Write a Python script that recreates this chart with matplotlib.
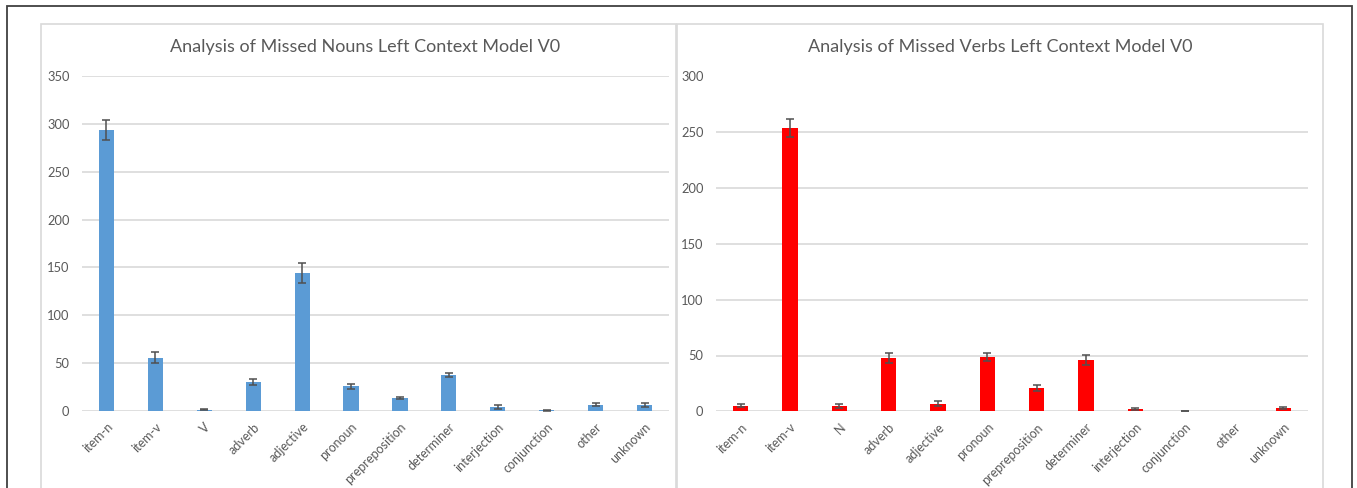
import matplotlib
matplotlib.use("Agg")
import matplotlib.pyplot as plt
from matplotlib.patches import Rectangle

plt.rcParams['font.family'] = ['Lato', 'DejaVu Sans']

# ---- data ----
noun_categories = ["item-n", "item-v", "V", "adverb", "adjective", "pronoun",
                   "prepreposition", "determiner", "interjection", "conjunction",
                   "other", "unknown"]
noun_values = [293.5, 55.7, 1.5, 30.0, 144.2, 25.7, 13.9, 37.6, 4.5, 0.8, 6.6, 6.3]
noun_errors = [10.5, 5.5, 0.5, 3.3, 10.0, 3.0, 1.2, 1.8, 2.0, 0.3, 1.8, 2.0]
noun_yticks = [0, 50, 100, 150, 200, 250, 300, 350]

verb_categories = ["item-n", "item-v", "N", "adverb", "adjective", "pronoun",
                   "prepreposition", "determiner", "interjection", "conjunction",
                   "other", "unknown"]
verb_values = [4.8, 253.8, 4.8, 47.8, 6.9, 48.4, 20.9, 46.0, 1.8, 0.3, 0.0, 3.3]
verb_errors = [1.3, 8.0, 1.8, 4.2, 2.5, 3.7, 3.0, 4.7, 0.8, 0.2, 0.0, 0.8]
verb_yticks = [0, 50, 100, 150, 200, 250, 300]

titles = ["Analysis of Missed Nouns Left Context Model V0",
          "Analysis of Missed Verbs Left Context Model V0"]

W, H = 1357, 488
fig = plt.figure(figsize=(W / 100, H / 100), dpi=100)
fig.patch.set_facecolor("white")

def fx(px):
    return px / W

def fy(py):
    return 1 - py / H

# outer frame and chart boxes
fig.patches.append(Rectangle((fx(7), fy(500)), fx(1352 - 7), fy(6) - fy(500),
                             transform=fig.transFigure, fill=False,
                             edgecolor="#404040", linewidth=1.3, zorder=0))
fig.patches.append(Rectangle((fx(41), fy(500)), fx(676 - 41), fy(24) - fy(500),
                             transform=fig.transFigure, fill=False,
                             edgecolor="#d9d9d9", linewidth=1.2, zorder=0))
fig.patches.append(Rectangle((fx(677), fy(500)), fx(1323 - 677), fy(24) - fy(500),
                             transform=fig.transFigure, fill=False,
                             edgecolor="#d9d9d9", linewidth=1.2, zorder=0))

text_color = "#595959"

def make_panel(rect, cats, vals, errs, yticks, color, title, title_x):
    ax = fig.add_axes(rect)
    x = list(range(len(cats)))
    ax.bar(x, vals, width=0.31, color=color, zorder=3)
    ex = [xi for xi, e in zip(x, errs) if e > 0]
    ev = [v for v, e in zip(vals, errs) if e > 0]
    ee = [e for e in errs if e > 0]
    ax.errorbar(ex, ev, yerr=ee, fmt="none", ecolor="#505050", elinewidth=1.1,
                capsize=2.6, capthick=1.1, zorder=4)
    ax.set_xlim(-0.5, len(cats) - 0.5)
    ax.set_ylim(yticks[0], yticks[-1])
    ax.set_yticks(yticks)
    ax.set_yticklabels([str(t) for t in yticks], fontsize=9.3, color=text_color)
    ax.set_xticks(x)
    ax.set_xticklabels(cats, rotation=45, ha="right", rotation_mode="anchor",
                       fontsize=9, color=text_color)
    ax.tick_params(axis="both", length=0)
    ax.tick_params(axis="y", pad=9)
    ax.tick_params(axis="x", pad=7)
    for s in ax.spines.values():
        s.set_visible(False)
    ax.grid(axis="y", color="#d9d9d9", linewidth=1.2, zorder=0)
    ax.set_axisbelow(True)
    ax.set_facecolor("none")
    fig.text(title_x, fy(47), title, ha="center", va="center",
             fontsize=13, color=text_color)
    return ax

ax1 = make_panel([fx(82), fy(411), fx(669 - 82), fy(76) - fy(411)],
                 noun_categories, noun_values, noun_errors, noun_yticks,
                 "#5B9BD5", titles[0], fx(365))
ax2 = make_panel([fx(716), fy(411.3), fx(1308 - 716), fy(76.5) - fy(411.3)],
                 verb_categories, verb_values, verb_errors, verb_yticks,
                 "#FF0000", titles[1], fx(1000))

fig.savefig("out.png", dpi=100)
